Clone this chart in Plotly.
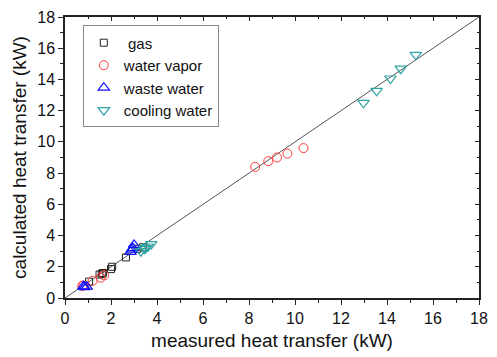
import plotly.graph_objects as go

# ---- data ----
gas_x = [1.05, 1.5, 1.6, 1.65, 2.0, 2.05, 2.65, 3.15, 3.4]
gas_y = [1.05, 1.5, 1.55, 1.6, 1.85, 2.0, 2.6, 3.15, 3.25]

vapor_x = [0.75, 0.8, 1.2, 1.55, 1.7, 8.27, 8.84, 9.22, 9.67, 10.37]
vapor_y = [0.78, 0.8, 1.1, 1.3, 1.45, 8.4, 8.77, 9.0, 9.25, 9.6]

waste_x = [0.8, 0.85, 0.95, 2.85, 2.9, 2.95, 3.0]
waste_y = [0.75, 0.7, 0.72, 2.95, 3.1, 3.2, 3.4]

cool_x = [3.3, 3.45, 3.5, 3.6, 3.75, 12.98, 13.55, 14.15, 14.6, 15.25]
cool_y = [3.0, 3.15, 3.2, 3.3, 3.45, 12.5, 13.27, 14.06, 14.69, 15.58]

diag = [0, 18]

x_title = "measured heat transfer (kW)"
y_title = "calculated heat transfer (kW)"

FONT = "Liberation Sans, Arial, sans-serif"

fig = go.Figure()

fig.add_trace(go.Scatter(x=diag, y=diag, mode="lines",
                         line=dict(color="#555555", width=1),
                         showlegend=False, hoverinfo="skip"))

fig.add_trace(go.Scatter(x=gas_x, y=gas_y, mode="markers", name="\u00a0gas",
                         marker=dict(symbol="square-open", size=7,
                                     color="#222222", line=dict(width=1))))
fig.add_trace(go.Scatter(x=vapor_x, y=vapor_y, mode="markers", name="water vapor",
                         marker=dict(symbol="circle-open", size=9,
                                     color="#ff3b3b", line=dict(width=1))))
fig.add_trace(go.Scatter(x=waste_x, y=waste_y, mode="markers", name="waste water",
                         marker=dict(symbol="triangle-up-open", size=10,
                                     color="#1010ff", line=dict(width=1.2))))
fig.add_trace(go.Scatter(x=cool_x, y=cool_y, mode="markers", name="cooling water",
                         marker=dict(symbol="triangle-down-open", size=10,
                                     color="#2ea3a3", line=dict(width=1.2))))

# invisible trace to activate the mirrored (top/right) axes
fig.add_trace(go.Scatter(x=diag, y=diag, xaxis="x2", yaxis="y2", mode="lines",
                         line=dict(width=0, color="rgba(0,0,0,0)"),
                         showlegend=False, hoverinfo="skip"))

axis_common = dict(range=[0, 18], dtick=2, tick0=0, showgrid=False, zeroline=False,
                   showline=True, linecolor="#222222", linewidth=1.5,
                   tickcolor="#222222", tickwidth=1)

fig.update_layout(
    width=497, height=357,
    margin=dict(l=65, r=9, t=13, b=56),
    paper_bgcolor="white", plot_bgcolor="white",
    font=dict(family=FONT, color="#111111"),
    xaxis=dict(**axis_common, ticks="outside", ticklen=5,
               minor=dict(ticks="outside", ticklen=3, dtick=1, tickcolor="#222222"),
               tickfont=dict(size=16),
               title=dict(text=x_title, font=dict(size=19), standoff=8)),
    yaxis=dict(**axis_common, ticks="outside", ticklen=5,
               minor=dict(ticks="outside", ticklen=3, dtick=1, tickcolor="#222222"),
               tickfont=dict(size=16),
               title=dict(text=y_title, font=dict(size=19), standoff=6)),
    xaxis2=dict(**axis_common, overlaying="x", side="top", anchor="y2",
                ticks="inside", ticklen=4, showticklabels=False,
                minor=dict(ticks="inside", ticklen=2, dtick=1, tickcolor="#222222")),
    yaxis2=dict(**axis_common, overlaying="y", side="right", anchor="x2",
                ticks="inside", ticklen=4, showticklabels=False,
                minor=dict(ticks="inside", ticklen=2, dtick=1, tickcolor="#222222")),
    legend=dict(x=0.043, y=0.97, xanchor="left", yanchor="top",
                bgcolor="white", bordercolor="#888888", borderwidth=1,
                font=dict(size=15), tracegroupgap=0, itemsizing="trace"),
    showlegend=True,
)

fig.write_html("out.html")
